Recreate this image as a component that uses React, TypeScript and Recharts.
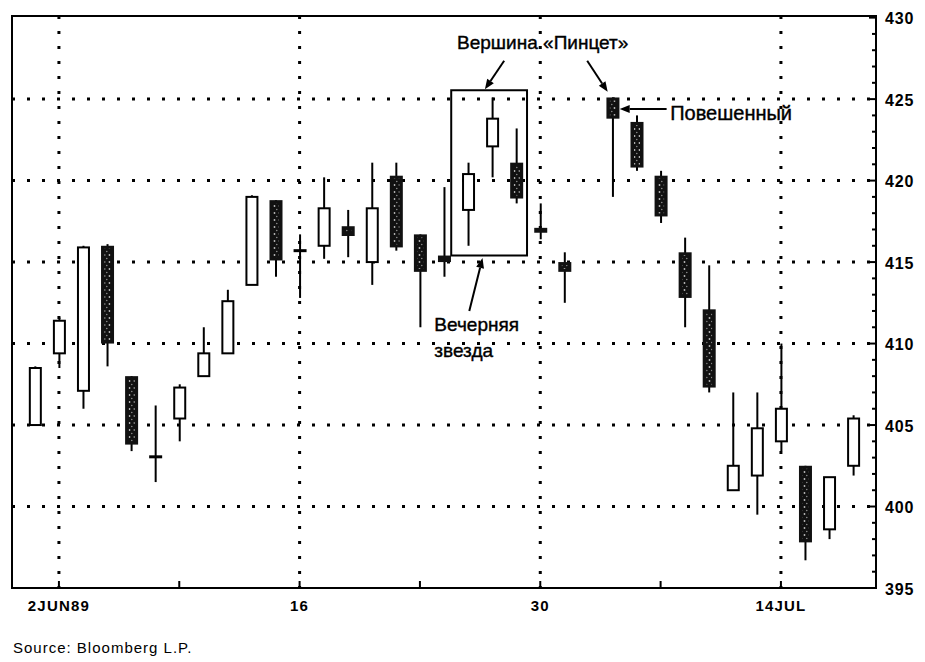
import React from 'react';
import { ComposedChart, Bar, XAxis, YAxis, CartesianGrid, ReferenceLine, ReferenceArea, ReferenceDot } from 'recharts';

// trading-day slots (July 4 holiday left empty at slot 23)
const slots = [0, 1, 2, 3, 4, 5, 6, 7, 8, 9, 10, 11, 12, 13, 14, 15, 16, 17, 18, 19, 20, 21, 22, 24, 25, 26, 27, 28, 29, 30, 31, 32, 33, 34];
const dates = ['1JUN', '2JUN', '5JUN', '6JUN', '7JUN', '8JUN', '9JUN', '12JUN', '13JUN', '14JUN', '15JUN', '16JUN', '19JUN', '20JUN', '21JUN', '22JUN', '23JUN', '26JUN', '27JUN', '28JUN', '29JUN', '30JUN', '3JUL', '5JUL', '6JUL', '7JUL', '10JUL', '11JUL', '12JUL', '13JUL', '14JUL', '17JUL', '18JUL', '19JUL'];
const opens = [405, 409.4, 407.1, 416, 408, 403, 405.4, 408, 409.4, 413.6, 418.8, 415.7, 416, 417.2, 415, 420.3, 416.7, 415.4, 418.2, 422.1, 421.1, 417.1, 415, 425.1, 423.6, 420.3, 415.6, 412.1, 401, 401.9, 404, 402.5, 398.6, 402.5];
const highs = [408.6, 411.6, 416, 416.1, 408, 406.2, 407.5, 411, 413.3, 419.1, 418.8, 416.7, 420.2, 418.2, 421.1, 421.1, 416.7, 419.6, 421.1, 425.1, 423.2, 418.6, 415.6, 425.1, 424, 420.6, 416.5, 414.8, 407, 407, 410, 402.5, 401.8, 405.6];
const lows = [405, 408.5, 406, 408.6, 403.4, 401.5, 404, 408, 409.4, 413.6, 414.1, 412.8, 415.2, 415.3, 413.6, 415.7, 411, 414.1, 416, 420.2, 418.6, 416.4, 412.5, 419, 420.6, 417.4, 411, 407, 401, 399.5, 403.4, 396.7, 398, 401.9];
const closes = [408.5, 411.4, 415.9, 410, 403.8, 403.1, 407.3, 409.4, 412.6, 419, 415.1, 415.7, 418.3, 416.6, 418.3, 415.9, 414.4, 415, 420.4, 423.8, 418.9, 416.8, 414.4, 423.8, 420.8, 417.8, 412.8, 407.3, 402.5, 404.8, 406, 397.8, 401.8, 405.4];

const xTicks = [1, 6, 11, 16, 21, 26, 31];
const xTickLabels = ['2JUN89', '', '16', '', '30', '', '14JUL'];
const xGrid = [1, 11, 21, 31];
const yGrid = [400, 405, 410, 415, 420, 425];
const yTicks = [395, 396, 397, 398, 399, 400, 401, 402, 403, 404, 405, 406, 407, 408, 409, 410, 411, 412, 413, 414, 415, 416, 417, 418, 419, 420, 421, 422, 423, 424, 425, 426, 427, 428, 429, 430];

// annotations in data coordinates
const noteTexts = ['Вершина «Пинцет»', 'Повешенный', 'Вечерняя', 'звезда'];
const notePos = [
  { x: 21.1, y: 428.45, anchor: 'middle' },
  { x: 26.4, y: 424.15, anchor: 'start' },
  { x: 16.6, y: 411.2, anchor: 'start' },
  { x: 16.6, y: 409.6, anchor: 'start' },
];
const arrows = [
  [{ x: 19.5, y: 427.35 }, { x: 18.7, y: 425.6 }],
  [{ x: 22.95, y: 427.35 }, { x: 23.8, y: 425.45 }],
  [{ x: 26.25, y: 424.4 }, { x: 24.3, y: 424.4 }],
  [{ x: 18.05, y: 412.0 }, { x: 18.6, y: 415.25 }],
];

const candles = slots.map((s, i) => ({
  slot: s,
  date: dates[i],
  open: opens[i],
  high: highs[i],
  low: lows[i],
  close: closes[i],
  range: [lows[i], highs[i]],
}));

const FONT = '"Liberation Sans", Arial, sans-serif';

const Candle = (props: any) => {
  const { x, y, width, height, payload } = props;
  const { open, close, high, low } = payload;
  const cx = x + width / 2;
  const k = height / (high - low);
  const py = (v: number) => y + (high - v) * k;
  const top = py(Math.max(open, close));
  const bot = py(Math.min(open, close));
  const bw = 13;
  const up = close >= open;
  const wick = <line x1={cx} x2={cx} y1={py(high)} y2={py(low)} stroke="#000" strokeWidth={2} />;

  if (bot - top < 3) {
    return (
      <g>
        {wick}
        <line x1={cx - bw / 2} x2={cx + bw / 2} y1={(top + bot) / 2} y2={(top + bot) / 2} stroke="#000" strokeWidth={3} />
      </g>
    );
  }
  if (up) {
    return (
      <g>
        {wick}
        <rect x={cx - bw / 2 + 1} y={top} width={bw - 2} height={bot - top} fill="#fff" stroke="#000" strokeWidth={2} />
      </g>
    );
  }
  return (
    <g>
      <defs>
        <pattern id="speck" width="5" height="7" patternUnits="userSpaceOnUse">
          <rect width="5" height="7" fill="#111" />
          <circle cx="1.5" cy="2" r="0.9" fill="#bbb" />
          <circle cx="3.8" cy="5.5" r="0.7" fill="#999" />
        </pattern>
      </defs>
      {wick}
      <rect x={cx - bw / 2} y={top} width={bw} height={bot - top} fill="#111" />
      {bot - top > 8 && (
        <rect x={cx - bw / 2 + 3.5} y={top + 3} width={bw - 7} height={bot - top - 6} fill="url(#speck)" />
      )}
    </g>
  );
};

const XTick = (props: any) => {
  const { x, y, index } = props;
  return (
    <g>
      <line x1={x} x2={x} y1={y} y2={y - 7} stroke="#000" strokeWidth={2} />
      <text x={x} y={y + 17} textAnchor="middle" dominantBaseline="central" fontFamily={FONT} fontWeight="bold" fontSize={15} letterSpacing={1.2} fill="#000">
        {xTickLabels[index]}
      </text>
    </g>
  );
};

const YTick = (props: any) => {
  const { x, y, payload } = props;
  const major = payload.value % 5 === 0;
  return (
    <g>
      <line x1={x} x2={x - (major ? 7 : 4)} y1={y} y2={y} stroke="#000" strokeWidth={2} />
      {major && (
        <text x={x + 9} y={y + 1} dominantBaseline="central" fontFamily={FONT} fontWeight="bold" fontSize={16} letterSpacing={0.8} fill="#000">
          {payload.value}
        </text>
      )}
    </g>
  );
};

const Arrow = (props: any) => {
  const { x1, y1, x2, y2 } = props;
  const a = Math.atan2(y2 - y1, x2 - x1);
  const L = 10;
  const W = 4;
  const bx = x2 - L * Math.cos(a);
  const by = y2 - L * Math.sin(a);
  const p1 = `${bx + W * Math.sin(a)},${by - W * Math.cos(a)}`;
  const p2 = `${bx - W * Math.sin(a)},${by + W * Math.cos(a)}`;
  return (
    <g>
      <line x1={x1} y1={y1} x2={bx} y2={by} stroke="#000" strokeWidth={2} />
      <polygon points={`${x2},${y2} ${p1} ${p2}`} fill="#000" />
    </g>
  );
};

const noteShape = (i: number) => (props: any) => (
  <text x={props.cx} y={props.cy} textAnchor={notePos[i].anchor as any} dominantBaseline="central" fontFamily={FONT} fontSize={i === 1 ? 20 : 19} fill="#000" stroke="#000" strokeWidth={0.4}>
    {noteTexts[i]}
  </text>
);

export default function App() {
  return (
    <div style={{ position: 'relative', width: 909, height: 648, background: '#fff' }}>
      <ComposedChart width={909} height={612} data={candles} margin={{ top: 8, right: 0, left: 4, bottom: 0 }}>
        <CartesianGrid
          horizontalValues={yGrid}
          verticalValues={xGrid}
          stroke="#000"
          strokeWidth={3}
          strokeDasharray="3 12"
        />
        <XAxis
          type="number"
          dataKey="slot"
          domain={[-0.95, 34.95]}
          ticks={xTicks}
          interval={0}
          allowDataOverflow
          height={32}
          tickSize={0}
          tickMargin={0}
          tickLine={false}
          axisLine={{ stroke: '#000', strokeWidth: 2 }}
          tick={<XTick />}
        />
        <YAxis
          type="number"
          orientation="right"
          domain={[395, 430.1]}
          ticks={yTicks}
          interval={0}
          allowDataOverflow
          width={41}
          tickSize={0}
          tickMargin={0}
          tickLine={false}
          axisLine={{ stroke: '#000', strokeWidth: 2 }}
          tick={<YTick />}
        />
        <ReferenceArea x1={-0.95} x2={34.95} y1={395} y2={430.1} fill="none" stroke="#000" strokeWidth={2} ifOverflow="visible" />
        <Bar dataKey="range" barSize={13} shape={<Candle />} isAnimationActive={false} />
        <ReferenceArea x1={17.3} x2={20.45} y1={415.4} y2={425.55} fill="none" stroke="#000" strokeWidth={2} />
        {arrows.map((seg, i) => (
          <ReferenceLine key={`a${i}`} segment={seg} shape={<Arrow />} ifOverflow="visible" />
        ))}
        {noteTexts.map((t, i) => (
          <ReferenceDot key={t} x={notePos[i].x} y={notePos[i].y} r={0} shape={noteShape(i)} ifOverflow="visible" />
        ))}
      </ComposedChart>
      <div style={{ position: 'absolute', left: 5, top: 631, fontFamily: FONT, fontSize: 15, letterSpacing: 1, color: '#000' }}>
        Source: Bloomberg L.P.
      </div>
    </div>
  );
}
